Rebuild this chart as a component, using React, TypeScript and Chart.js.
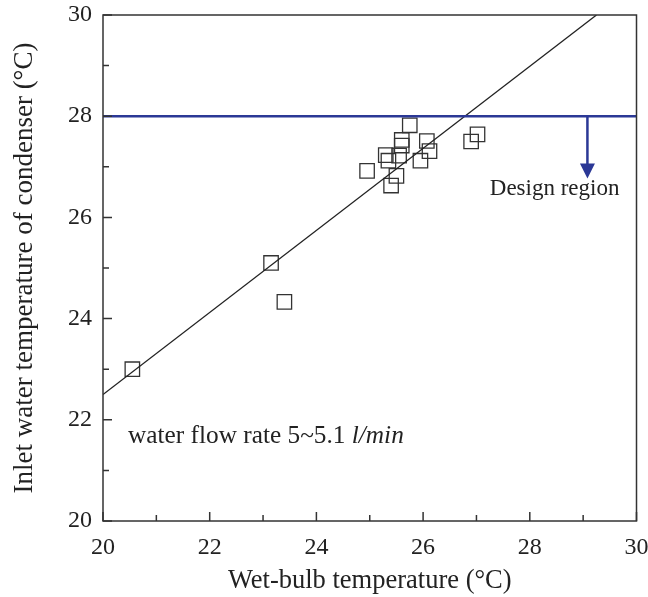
import React, { useEffect, useRef } from "react";
import { Chart, registerables } from "chart.js";

Chart.register(...registerables);

// Measured data (wet-bulb temperature, inlet water temperature)
const wetBulb = [20.55, 23.15, 23.4, 24.95, 25.75, 25.6, 25.6, 26.07, 26.12, 25.3, 25.35, 25.55, 25.95, 25.5, 25.4, 27.02, 26.9];
const inletTemp = [23.0, 25.1, 24.33, 26.92, 27.82, 27.53, 27.42, 27.51, 27.31, 27.23, 27.12, 27.22, 27.12, 26.82, 26.63, 27.64, 27.5];

// Linear fit line
const fitX = [20, 29.25];
const fitY = [22.5, 30];

// Design limit line
const limitX = [20, 30];
const limitY = [28, 28];

// Arrow (x, from y, to y)
const arrowX = [29.08];
const arrowY = [28, 26.77];

const xTicksMajor = [20, 22, 24, 26, 28, 30];
const yTicksMajor = [20, 22, 24, 26, 28, 30];

const SERIF = "'Liberation Serif', 'DejaVu Serif', serif";
const BLUE = "#2b3896";

const framePlugin = {
  id: "frameTicks",
  afterDatasetsDraw(chart: any) {
    const { ctx, chartArea, scales } = chart;
    const xs = scales.x;
    const ys = scales.y;
    ctx.save();
    // arrow
    const ax = xs.getPixelForValue(arrowX[0]);
    const ay0 = ys.getPixelForValue(arrowY[0]);
    const ay1 = ys.getPixelForValue(arrowY[1]);
    ctx.strokeStyle = BLUE;
    ctx.fillStyle = BLUE;
    ctx.lineWidth = 2.5;
    ctx.beginPath();
    ctx.moveTo(ax, ay0);
    ctx.lineTo(ax, ay1 - 12);
    ctx.stroke();
    ctx.beginPath();
    ctx.moveTo(ax - 7.5, ay1 - 15);
    ctx.lineTo(ax + 7.5, ay1 - 15);
    ctx.lineTo(ax, ay1);
    ctx.closePath();
    ctx.fill();

    // frame
    ctx.strokeStyle = "#333";
    ctx.lineWidth = 1.5;
    ctx.strokeRect(chartArea.left, chartArea.top, chartArea.right - chartArea.left, chartArea.bottom - chartArea.top);

    // inward ticks
    ctx.beginPath();
    for (let v = 20; v <= 30; v += 1) {
      const major = v % 2 === 0;
      const len = major ? 9 : 6;
      const px = xs.getPixelForValue(v);
      ctx.moveTo(px, chartArea.bottom);
      ctx.lineTo(px, chartArea.bottom - len);
      const py = ys.getPixelForValue(v);
      ctx.moveTo(chartArea.left, py);
      ctx.lineTo(chartArea.left + len, py);
    }
    ctx.stroke();

    // annotations
    ctx.fillStyle = "#222";
    ctx.font = `23px ${SERIF}`;
    ctx.textBaseline = "alphabetic";
    ctx.textAlign = "left";
    ctx.fillText("Design region", xs.getPixelForValue(27.25), ys.getPixelForValue(26.44));
    ctx.font = `25.3px ${SERIF}`;
    const tx = xs.getPixelForValue(20.47);
    const ty = ys.getPixelForValue(21.55);
    const part1 = "water flow rate 5~5.1 ";
    ctx.fillText(part1, tx, ty);
    const w = ctx.measureText(part1).width;
    ctx.font = `italic 25.3px ${SERIF}`;
    ctx.fillText("l/min", tx + w, ty);
    ctx.restore();
  },
};

export default function App() {
  const ref = useRef<HTMLCanvasElement>(null);
  useEffect(() => {
    document.body.style.margin = "0";
    const canvas = ref.current!;
    const chart = new Chart(canvas, {
      type: "scatter",
      data: {
        datasets: [
          {
            type: "line",
            data: limitX.map((x, i) => ({ x, y: limitY[i] })),
            borderColor: BLUE,
            borderWidth: 2.5,
            pointRadius: 0,
          },
          {
            type: "line",
            data: fitX.map((x, i) => ({ x, y: fitY[i] })),
            borderColor: "#222",
            borderWidth: 1.3,
            pointRadius: 0,
          },
          {
            data: wetBulb.map((x, i) => ({ x, y: inletTemp[i] })),
            pointStyle: "rect",
            pointRadius: 10.2,
            borderColor: "#333",
            borderWidth: 1.3,
            backgroundColor: "rgba(0,0,0,0)",
          },
        ],
      } as any,
      options: {
        responsive: false,
        animation: false,
        layout: { padding: { top: 15, right: 10, left: 0, bottom: 0 } },
        plugins: { legend: { display: false }, tooltip: { enabled: false } },
        scales: {
          x: {
            type: "linear",
            min: 20,
            max: 30,
            afterBuildTicks: (s: any) => { s.ticks = xTicksMajor.map((v) => ({ value: v })); },
            grid: { display: false, drawTicks: false },
            border: { display: false },
            ticks: { color: "#222", font: { family: SERIF, size: 24 }, padding: 12 },
            title: { display: true, text: "Wet-bulb temperature (°C)", color: "#222", font: { family: SERIF, size: 26.5 }, padding: { top: 4, bottom: 0 } },
            afterFit: (s: any) => { s.height = 76; s.paddingLeft = 0; s.paddingRight = 0; },
          },
          y: {
            type: "linear",
            min: 20,
            max: 30,
            afterBuildTicks: (s: any) => { s.ticks = yTicksMajor.map((v) => ({ value: v })); },
            grid: { display: false, drawTicks: false },
            border: { display: false },
            ticks: { color: "#222", font: { family: SERIF, size: 24 }, padding: 11 },
            title: { display: true, text: "Inlet water temperature of condenser (°C)", color: "#222", font: { family: SERIF, size: 27 }, padding: { top: 9, bottom: 4 } },
            afterFit: (s: any) => { s.width = 103; s.paddingTop = 0; s.paddingBottom = 0; },
          },
        },
      } as any,
      plugins: [framePlugin],
    });
    return () => chart.destroy();
  }, []);
  return <canvas ref={ref} width={648} height={597} style={{ display: "block" }} />;
}
